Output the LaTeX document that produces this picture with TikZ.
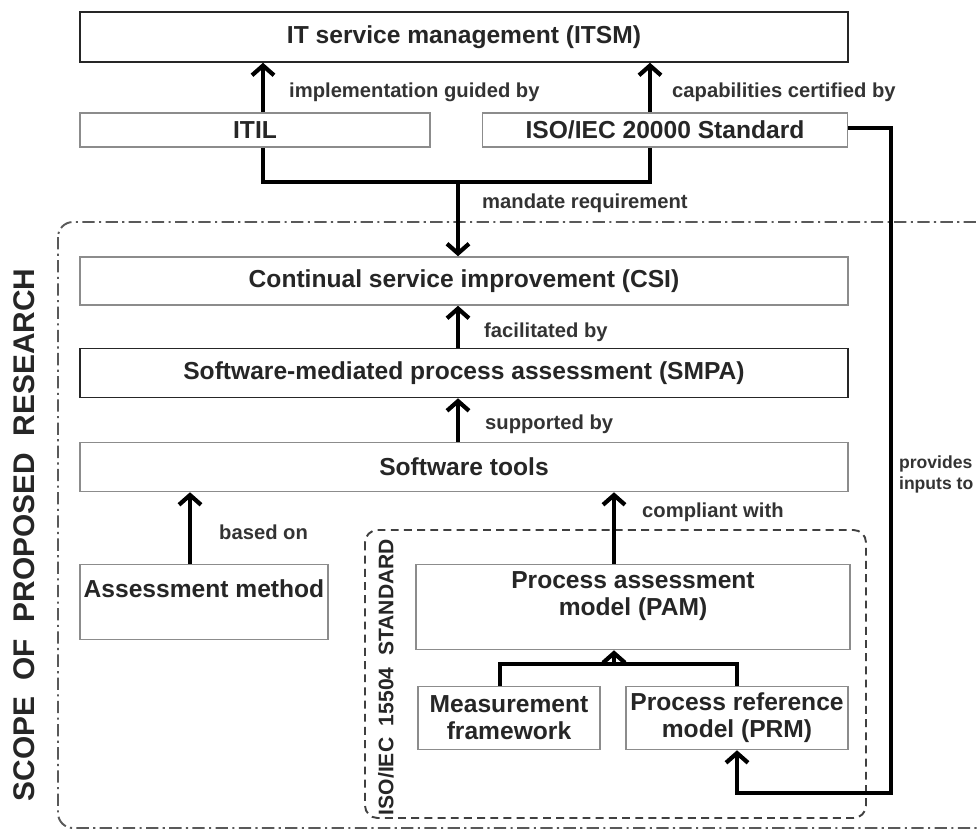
\documentclass[tikz,border=0pt]{standalone}
\usepackage{fontspec}
\setmainfont{Liberation Sans}
\usetikzlibrary{positioning}
\usetikzlibrary{arrows.meta}

\begin{document}
\begin{tikzpicture}
      [x=0.02cm, y=-0.02cm,
       box/.style={draw=black!45, line width=0.9pt, rectangle, align=center, inner sep=2pt,
                   text=black!85, font=\bfseries\fontsize{14}{15.5}\selectfont},
       darkbox/.style={box, draw=black!85},
       flow/.style={line width=2.4pt, -{Straight Barb[length=5.5pt,width=12.5pt,line width=2.4pt]}},
       wire/.style={line width=2.4pt},
       lbl/.style={anchor=west, align=left, text=black!80, font=\bfseries\fontsize{11.5}{12.5}\selectfont},
       scopeline/.style={draw=black!65, line width=1.1pt, dash pattern=on 7pt off 2.5pt on 1.2pt off 2.5pt,
                         rounded corners=0.3cm},
       stdline/.style={draw=black!75, line width=1.1pt, dash pattern=on 4.5pt off 3pt, rounded corners=0.25cm}]
    \useasboundingbox (0,0) rectangle (980,832);

    % boundaries
    \draw[scopeline] (58,222) rectangle (995,828);
    \draw[stdline] (365,530) rectangle (866,818);
    \node[rotate=90, text=black!85, font=\bfseries\fontsize{17}{20}\selectfont] (scope) at (24,535)
         {SCOPE~~OF~~PROPOSED~~RESEARCH};
    \node[rotate=90, text=black!85, font=\bfseries\fontsize{12}{14}\selectfont] (std) at (386,677)
         {ISO/IEC~~15504~~STANDARD};

    % boxes
    \node[darkbox, minimum width=15.36cm, minimum height=1cm]   (itsm)  at (464,37)   {IT service management (ITSM)};
    \node[box, minimum width=7cm, minimum height=0.68cm]        (itil)  at (255,130)  {ITIL};
    \node[box, minimum width=7.3cm, minimum height=0.68cm]      (iso)   at (665,130)  {ISO/IEC 20000 Standard};
    \node[box, minimum width=15.36cm, minimum height=0.96cm]    (csi)   at (464,281)  {Continual service improvement (CSI)};
    \node[darkbox, minimum width=15.36cm, minimum height=0.98cm] (smpa) at (464,373)  {Software-mediated process assessment (SMPA)};
    \node[box, minimum width=15.36cm, minimum height=0.98cm]    (tools) at (464,467)  {Software tools};
    \node[box, minimum width=4.96cm, minimum height=1.5cm]      (am)    at (204,602)  {Assessment method\\~};
    \node[box, minimum width=8.68cm, minimum height=1.7cm]      (pam)   at (633,607)  {Process assessment\\model (PAM)\\~};
    \node[box, minimum width=3.64cm, minimum height=1.26cm]     (mf)    at (509,718)  {Measurement\\framework};
    \node[box, minimum width=4.44cm, minimum height=1.26cm]     (prm)   at (737,718)  {Process reference\\model (PRM)};

    \coordinate (join) at (458,182);
    \coordinate (fork) at (614,664);
    \coordinate (feed) at (891,793);

    % connectors
    \draw[flow] ([xshift=0.16cm]itil.north) -- ([xshift=0.16cm]itil.north |- itsm.south);
    \draw[flow] ([xshift=-0.3cm]iso.north) -- ([xshift=-0.3cm]iso.north |- itsm.south);
    \draw[wire] ([xshift=0.16cm]itil.south) -- ([xshift=0.16cm]itil.south |- join)
                -- ([xshift=-0.3cm]iso.south |- join) -- ([xshift=-0.3cm]iso.south);
    \draw[flow] (join) -- (join |- csi.north);
    \draw[flow] ([xshift=-0.12cm]smpa.north) -- ([xshift=-0.12cm]csi.south);
    \draw[flow] ([xshift=-0.12cm]tools.north) -- ([xshift=-0.12cm]smpa.south);
    \draw[flow] ([xshift=-0.28cm]am.north) -- ([xshift=-0.28cm]am.north |- tools.south);
    \draw[flow] ([xshift=-0.38cm]pam.north) -- ([xshift=-0.38cm]pam.north |- tools.south);
    \draw[wire] ([xshift=-0.18cm]mf.north) -- ([xshift=-0.18cm]mf.north |- fork) -- (prm.north |- fork) -- (prm.north);
    \draw[flow] (fork) -- (fork |- pam.south);
    \draw[flow] ([yshift=0.04cm]iso.east) -| (feed) -| (prm.south);

    % labels
    \node[lbl] (l1) at (283,92)  {implementation guided by};
    \node[lbl] (l2) at (666,92)  {capabilities certified by};
    \node[lbl] (l3) at (476,203) {mandate requirement};
    \node[lbl] (l4) at (478,332) {facilitated by};
    \node[lbl] (l5) at (479,424) {supported by};
    \node[lbl] (l6) at (213,532) {based on};
    \node[lbl] (l7) at (636,512) {compliant with};
    \node[lbl, inner sep=1pt, font=\bfseries\fontsize{10}{12}\selectfont] (l8) at (897,474) {provides\\inputs to};
\end{tikzpicture}
\end{document}
